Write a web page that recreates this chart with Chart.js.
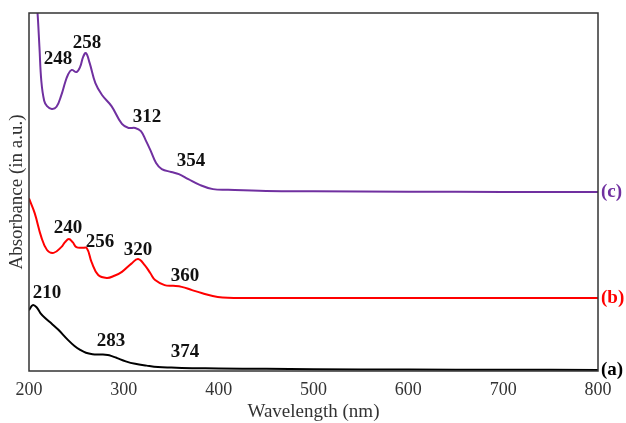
<!DOCTYPE html>
<html>
<head>
<meta charset="utf-8">
<script src="https://cdn.jsdelivr.net/npm/chart.js@4.4.1/dist/chart.umd.min.js"></script>
<style>
  html, body { margin: 0; padding: 0; background: #fff; }
  #wrap { width: 626px; height: 423px; }
</style>
</head>
<body>
<div id="wrap"><canvas id="uvChart" width="626" height="423"></canvas></div>
<script>
// spectra (wavelength in nm, absorbance in arbitrary units, offset per curve)
var wavelengthsA = [200, 204, 208, 212, 217, 224, 231, 241, 248, 254, 260, 267, 275, 283, 288, 293, 302, 312, 324, 336, 350, 372, 400, 450, 500, 600, 700, 800];
var absorbanceA  = [17.0, 18.4, 17.8, 16.2, 14.8, 13.2, 11.5, 8.7, 7.0, 5.9, 5.1, 4.7, 4.6, 4.5, 4.1, 3.6, 2.7, 2.0, 1.5, 1.1, 0.95, 0.8, 0.7, 0.6, 0.5, 0.4, 0.35, 0.3];

var wavelengthsB = [200, 206, 213, 219, 226, 234, 238, 242, 246, 250, 256, 261, 266, 273, 282, 290, 298, 308, 315, 322, 328, 333, 343, 352, 361, 372, 382, 399, 430, 500, 600, 700, 800];
var absorbanceB  = [48.2, 44.1, 37.4, 33.8, 33.0, 34.6, 36.0, 36.9, 36.0, 34.6, 34.4, 34.3, 30.4, 26.8, 26.0, 26.6, 27.7, 30.0, 31.3, 29.6, 27.3, 25.4, 24.0, 23.8, 23.5, 22.6, 21.8, 20.7, 20.4, 20.4, 20.4, 20.4, 20.4];

var wavelengthsC = [206, 209, 211, 213, 216, 219, 224, 229, 234, 238, 241, 245, 250, 254, 257, 260, 264, 270, 277, 287, 298, 305, 312, 318, 323, 328, 334, 340, 350, 358, 368, 380, 394, 410, 450, 500, 600, 700, 800];
var absorbanceC  = [110, 100, 90.5, 81.0, 75.5, 74.0, 73.2, 73.8, 77.0, 80.5, 82.7, 84.1, 83.5, 85.0, 87.7, 88.8, 86.0, 80.4, 77.1, 74.0, 69.0, 67.9, 67.9, 67.0, 64.5, 61.7, 58.1, 56.4, 55.6, 55.0, 53.6, 52.0, 50.8, 50.6, 50.3, 50.2, 50.1, 50.0, 50.0];

var xTicks = [200, 300, 400, 500, 600, 700, 800];

// peak labels: text, and where the text sits in data units
var peakText   = ["248", "258", "312", "354", "240", "256", "320", "360", "210", "283", "374"];
var peakX      = [230.6, 261.2, 324.5, 370.9, 241.1, 274.9, 315.0, 364.6, 219.0, 286.5, 364.6];
var peakY      = [87.2, 91.6, 70.9, 58.7, 39.9, 36.0, 33.8, 26.5, 21.8, 8.4, 5.3];

var curveNames  = ["(a)", "(b)", "(c)"];
var curveColors = ["#000000", "#ff0000", "#7030a0"];

function toPoints(xs, ys) {
    return xs.map(function (x, i) { return { x: x, y: ys[i] }; });
}

var labelPlugin = {
    id: "labelPlugin",
    afterDatasetsDraw: function (chart) {
        var ctx = chart.ctx;
        var area = chart.chartArea;
        var xs = chart.scales.x, ys = chart.scales.y;
        ctx.save();
        // frame
        ctx.strokeStyle = "#333";
        ctx.lineWidth = 1.5;
        ctx.strokeRect(area.left, area.top, area.right - area.left, area.bottom - area.top);

        // peak positions
        ctx.font = "bold 19px 'Liberation Serif'";
        ctx.fillStyle = "#111";
        ctx.textAlign = "center";
        ctx.textBaseline = "middle";
        for (var i = 0; i < peakText.length; i++) {
            ctx.fillText(peakText[i], xs.getPixelForValue(peakX[i]), ys.getPixelForValue(peakY[i]));
        }

        // curve names at the right end
        ctx.textAlign = "left";
        chart.data.datasets.forEach(function (ds, k) {
            var last = ds.data[ds.data.length - 1];
            ctx.fillStyle = curveColors[k];
            ctx.fillText(curveNames[k], area.right + 3, ys.getPixelForValue(last.y));
        });
        ctx.restore();
    }
};

var ctx = document.getElementById("uvChart").getContext("2d");
var uvChart = new Chart(ctx, {
    type: "line",
    data: {
        datasets: [
            { label: "(a)", data: toPoints(wavelengthsA, absorbanceA), borderColor: curveColors[0], tension: 0.4 },
            { label: "(b)", data: toPoints(wavelengthsB, absorbanceB), borderColor: curveColors[1], tension: 0.4 },
            { label: "(c)", data: toPoints(wavelengthsC, absorbanceC), borderColor: curveColors[2], tension: 0.4 }
        ]
    },
    options: {
        responsive: false,
        animation: false,
        layout: { padding: { top: 13, right: 28, left: 0, bottom: 0 } },
        elements: {
            line: { borderWidth: 2, fill: false },
            point: { radius: 0 }
        },
        plugins: {
            legend: { display: false },
            tooltip: { enabled: false }
        },
        scales: {
            x: {
                type: "linear",
                min: 200,
                max: 800,
                afterBuildTicks: function (scale) {
                    scale.ticks = xTicks.map(function (v) { return { value: v }; });
                },
                afterFit: function (scale) { scale.height = 52; },
                grid: { display: false, drawTicks: false },
                border: { display: false },
                ticks: {
                    padding: 8,
                    color: "#333",
                    font: { family: "'Liberation Serif'", size: 18 }
                },
                title: {
                    display: true,
                    text: "Wavelength (nm)",
                    color: "#333",
                    padding: 0,
                    font: { family: "'Liberation Serif'", size: 19 }
                }
            },
            y: {
                min: 0,
                max: 100,
                afterFit: function (scale) { scale.width = 29; },
                grid: { display: false, drawTicks: false },
                border: { display: false },
                ticks: { display: false },
                title: {
                    display: true,
                    text: "Absorbance (in a.u.)",
                    color: "#333",
                    padding: { top: 6, bottom: 0 },
                    font: { family: "'Liberation Serif'", size: 19 }
                }
            }
        }
    },
    plugins: [labelPlugin]
});
</script>
</body>
</html>
